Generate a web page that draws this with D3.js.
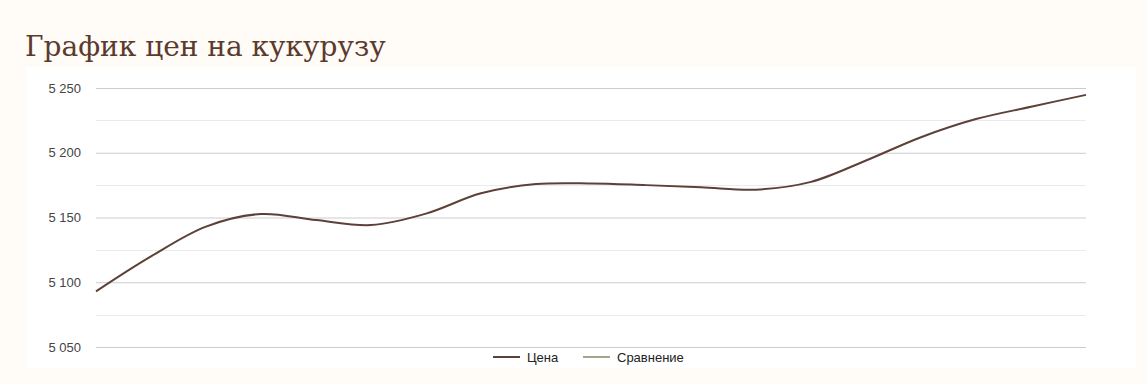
<!DOCTYPE html>
<html>
<head>
    <meta charset="utf-8">
    <title>График цен на кукурузу</title>
    <script src="https://d3js.org/d3.v7.min.js"></script>
    <style>
        body { margin: 0; background: #fffbf7; }
    </style>
</head>
<body>
    <script>
        // точки данных (подписей по оси X на графике нет)
        const categories = ["1", "2", "3", "4", "5", "6", "7", "8", "9", "10",
            "11", "12", "13", "14", "15", "16", "17", "18", "19"];
        const prices = [5093, 5120, 5143, 5152.7, 5148, 5144.2, 5153, 5168.7, 5175.8, 5176.3,
            5175, 5173.4, 5171.5, 5177.5, 5194, 5212, 5226, 5235.5, 5244.7];
        const yTicks = [5050, 5100, 5150, 5200, 5250];
        const yMinorTicks = [5075, 5125, 5175, 5225];
        const legendItems = ["Цена", "Сравнение"];

        const width = 1146, height = 384;
        const colors = ["#5d4037", "#a3a58e"];

        const svg = d3.select("body").append("svg")
            .attr("width", width)
            .attr("height", height);

        // заголовок
        svg.append("text")
            .attr("x", 25)
            .attr("y", 56)
            .attr("font-family", "'DejaVu Serif', serif")
            .attr("font-size", 28)
            .attr("fill", "#5b3a2c")
            .text("График цен на кукурузу");

        // белая панель графика
        svg.append("rect")
            .attr("x", 26)
            .attr("y", 67)
            .attr("width", 1110)
            .attr("height", 301)
            .attr("fill", "#fff");

        const x = d3.scalePoint()
            .domain(categories)
            .range([96, 1086]);

        const y = d3.scaleLinear()
            .domain([5050, 5250])
            .range([347, 88]);

        // второстепенная сетка
        svg.selectAll("line.minor")
            .data(yMinorTicks)
            .enter().append("line")
            .attr("class", "minor")
            .attr("x1", 96)
            .attr("x2", 1086)
            .attr("y1", d => Math.round(y(d)) + 0.5)
            .attr("y2", d => Math.round(y(d)) + 0.5)
            .attr("stroke", "#ebebeb");

        // ось Y с основной сеткой
        const yAxis = svg.append("g")
            .attr("transform", "translate(96,0)")
            .call(d3.axisLeft(y)
                .tickValues(yTicks)
                .tickSize(-990)
                .tickPadding(15)
                .tickFormat(d => d3.format(",")(d).replace(",", " ")));

        yAxis.select(".domain").remove();
        yAxis.selectAll(".tick line").attr("stroke", "#cccccc");
        yAxis.selectAll(".tick text")
            .attr("font-family", "Arial, 'Liberation Sans', sans-serif")
            .attr("font-size", 13)
            .attr("fill", "#444");

        // линия цены
        const line = d3.line()
            .x((d, i) => x(categories[i]))
            .y(d => y(d))
            .curve(d3.curveCatmullRom.alpha(0.5));

        svg.append("path")
            .datum(prices)
            .attr("fill", "none")
            .attr("stroke", colors[0])
            .attr("stroke-width", 2)
            .attr("d", line);

        // легенда
        const legendX = [493, 583];
        const legend = svg.selectAll("g.legend")
            .data(legendItems)
            .enter().append("g")
            .attr("class", "legend")
            .attr("transform", (d, i) => `translate(${legendX[i]},357)`);

        legend.append("line")
            .attr("x1", 0)
            .attr("x2", 27)
            .attr("stroke", (d, i) => colors[i])
            .attr("stroke-width", 2);

        legend.append("text")
            .attr("x", 34)
            .attr("dy", "0.35em")
            .attr("font-family", "Arial, 'Liberation Sans', sans-serif")
            .attr("font-size", 13)
            .attr("fill", "#222")
            .text(d => d);
    </script>
</body>
</html>
